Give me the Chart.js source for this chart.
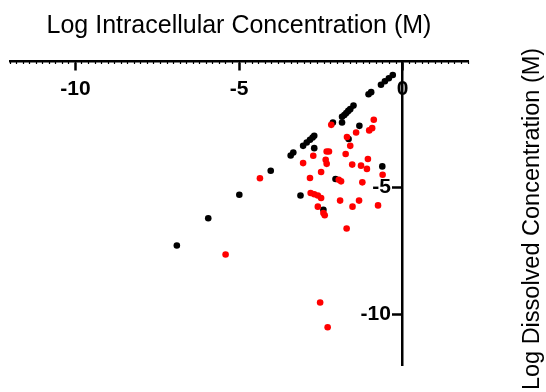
<!DOCTYPE html>
<html>
<head>
<meta charset="utf-8">
<script src="https://cdn.jsdelivr.net/npm/chart.js@4"></script>
<style>
  html, body { margin: 0; padding: 0; background: #fff; }
  #c { display: block; }
</style>
</head>
<body>
<canvas id="c" width="546" height="392"></canvas>
<script>
// ---- Data ----
const blackX = [-0.30, -0.42, -0.54, -0.66, -0.96, -1.04, -1.50, -1.60, -1.66, -1.72, -1.78, -1.85,
                -1.85, -2.13, -1.32, -1.65, -2.70, -2.75, -2.83, -2.93, -3.04, -2.70, -3.34, -3.42,
                -4.03, -0.62, -2.05, -3.12, -2.42, -4.99, -5.94, -6.90];
const blackY = [-0.55, -0.68, -0.80, -0.94, -1.23, -1.31, -1.76, -1.90, -1.97, -2.05, -2.13, -2.20,
                -2.43, -2.43, -2.56, -3.08, -2.95, -3.02, -3.11, -3.22, -3.35, -3.44, -3.61, -3.73,
                -4.33, -4.16, -4.66, -5.31, -5.87, -5.28, -6.21, -7.28];

const redX = [-0.88, -0.93, -1.02, -1.42, -2.18, -1.70, -1.60, -2.32, -2.25, -2.73, -1.74, -2.35,
              -2.32, -3.04, -1.06, -1.54, -1.27, -1.09, -2.49, -0.61, -4.36, -2.83, -1.95, -1.88,
              -1.23, -2.81, -2.70, -2.59, -2.49, -1.91, -1.33, -1.53, -0.75, -2.59, -2.42, -2.38,
              -1.71, -5.41, -2.52, -2.29];
const redY = [-2.32, -2.65, -2.74, -2.82, -2.52, -3.00, -3.35, -3.57, -3.57, -3.74, -3.67, -3.90,
              -4.06, -4.03, -3.87, -4.09, -4.13, -4.26, -4.38, -4.49, -4.63, -4.62, -4.69, -4.75,
              -4.79, -5.21, -5.26, -5.31, -5.41, -5.51, -5.51, -5.75, -5.70, -5.75, -6.00, -6.09,
              -6.61, -7.64, -9.53, -10.51];

const xTicks = [-10, -5, 0];
const yTicks = [-10, -5];
const xRange = [-12, 2];
const yRange = [-12, 0];
const xMinorStep = 0.2;

const xTitle = 'Log Intracellular Concentration (M)';
const yTitle = 'Log Dissolved Concentration (M)';

// ---- Build datasets ----
const toPts = (xs, ys) => xs.map((x, i) => ({ x: x, y: ys[i] }));

const FONT = "'Liberation Sans', Arial, Helvetica, sans-serif";

const yTitlePlugin = {
  id: 'yTitleRight',
  afterDraw(chart) {
    const ctx = chart.ctx;
    ctx.save();
    ctx.translate(533, 219);
    ctx.rotate(-Math.PI / 2);
    ctx.textAlign = 'center';
    ctx.textBaseline = 'middle';
    ctx.fillStyle = '#000';
    ctx.font = '23.5px ' + FONT;
    ctx.fillText(yTitle, 0, 0);
    ctx.restore();
  }
};

new Chart(document.getElementById('c'), {
  type: 'scatter',
  data: {
    datasets: [
      {
        label: 'red',
        data: toPts(redX, redY),
        backgroundColor: '#ff0000',
        borderWidth: 0,
        pointRadius: 3.3,
        order: 0
      },
      {
        label: 'black',
        data: toPts(blackX, blackY),
        backgroundColor: '#000000',
        borderWidth: 0,
        pointRadius: 3.3,
        order: 1
      }
    ]
  },
  options: {
    responsive: false,
    animation: false,
    layout: { padding: { left: 10, right: 78, top: 0, bottom: 27 } },
    plugins: {
      legend: { display: false },
      tooltip: { enabled: false },
      title: {
        display: true,
        text: xTitle,
        color: '#000',
        font: { family: FONT, size: 25, weight: 'normal', lineHeight: 1.2 },
        padding: { top: 11, bottom: 20 }
      }
    },
    scales: {
      x: {
        type: 'linear',
        min: xRange[0],
        max: xRange[1],
        position: { y: 0 },
        afterBuildTicks: (s) => { s.ticks = xTicks.map(v => ({ value: v })); },
        ticks: {
          color: '#000',
          font: { family: FONT, size: 21, weight: 'bold' },
          padding: 8,
          maxRotation: 0,
          autoSkip: false
        },
        grid: { drawOnChartArea: false, drawTicks: true, tickLength: 8, tickWidth: 2.5, tickColor: '#000' },
        border: { display: true, color: '#000', width: 2.5 }
      },
      xm: {
        type: 'linear',
        min: xRange[0],
        max: xRange[1],
        position: { y: 0 },
        afterBuildTicks: (s) => {
          const t = [];
          const n = Math.round((xRange[1] - xRange[0]) / xMinorStep);
          for (let i = 0; i <= n; i++) t.push({ value: +(xRange[0] + i * xMinorStep).toFixed(3) });
          s.ticks = t;
        },
        ticks: { display: false },
        grid: { drawOnChartArea: false, drawTicks: true, tickLength: 3, tickWidth: 1.2, tickColor: '#000' },
        border: { display: false }
      },
      y: {
        type: 'linear',
        min: yRange[0],
        max: yRange[1],
        position: { x: 0 },
        afterBuildTicks: (s) => { s.ticks = yTicks.map(v => ({ value: v })); },
        ticks: {
          color: '#000',
          font: { family: FONT, size: 21, weight: 'bold' },
          padding: 3,
          autoSkip: false,
          callback: (v) => v + '  '
        },
        grid: { drawOnChartArea: false, drawTicks: true, tickLength: 9, tickWidth: 2.5, tickColor: '#000' },
        border: { display: true, color: '#000', width: 2.5 }
      }
    }
  },
  plugins: [yTitlePlugin]
});
</script>
</body>
</html>
